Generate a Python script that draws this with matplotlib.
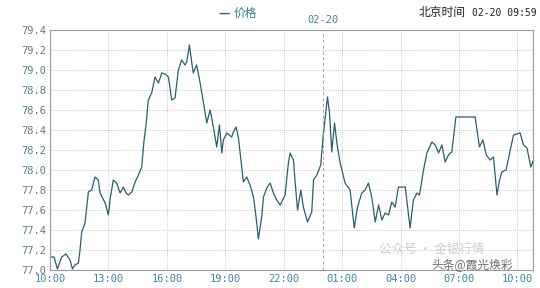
import matplotlib.pyplot as plt

plt.rcParams['font.family'] = ['Noto Sans CJK SC', 'DejaVu Sans']

# hours since 10:00 on 02-19, price
hours = [0.00, 0.21, 0.38, 0.60, 0.82, 1.03, 1.15, 1.28, 1.46, 1.54, 1.63, 1.80, 1.97, 2.14,
         2.31, 2.48, 2.57, 2.83, 3.00, 3.08, 3.25, 3.42, 3.60, 3.77, 3.90, 4.02, 4.20, 4.37,
         4.54, 4.71, 4.83, 4.93, 5.05, 5.22, 5.39, 5.57, 5.74, 5.91, 6.08, 6.25, 6.42, 6.59,
         6.76, 6.93, 7.02, 7.16, 7.28, 7.36, 7.53, 7.71, 7.88, 8.05, 8.22, 8.39, 8.56, 8.70,
         8.82, 8.90, 9.08, 9.33, 9.42, 9.55, 9.67, 9.93, 10.10, 10.27, 10.45, 10.58, 10.70,
         10.87, 10.96, 11.13, 11.30, 11.47, 11.64, 11.82, 12.07, 12.24, 12.33, 12.50, 12.59,
         12.71, 12.88, 13.01, 13.22, 13.44, 13.53, 13.70, 13.90, 14.04, 14.25, 14.35, 14.47,
         14.61, 14.73, 14.90, 15.15, 15.41, 15.62, 15.79, 16.01, 16.18, 16.35, 16.52, 16.70,
         16.87, 17.04, 17.21, 17.38, 17.55, 17.72, 17.89, 18.24, 18.32, 18.49, 18.66, 18.84,
         18.97, 19.18, 19.35, 19.61, 19.78, 19.95, 20.12, 20.29, 20.46, 20.63, 20.84, 21.83,
         22.05, 22.23, 22.40, 22.60, 22.77, 22.95, 23.08, 23.20, 23.42, 23.63, 23.80, 24.14,
         24.31, 24.49, 24.69, 24.86]
price = [77.13, 77.13, 77.01, 77.13, 77.16, 77.10, 77.01, 77.05, 77.07, 77.20, 77.38, 77.47,
         77.78, 77.80, 77.93, 77.90, 77.77, 77.67, 77.55, 77.70, 77.90, 77.87, 77.77, 77.83,
         77.77, 77.75, 77.78, 77.88, 77.95, 78.03, 78.30, 78.45, 78.70, 78.77, 78.93, 78.87,
         78.97, 78.96, 78.93, 78.70, 78.72, 79.00, 79.10, 79.05, 79.08, 79.25, 79.07, 78.97,
         79.05, 78.87, 78.67, 78.47, 78.60, 78.43, 78.23, 78.45, 78.17, 78.30, 78.37, 78.33,
         78.38, 78.43, 78.33, 77.88, 77.93, 77.85, 77.73, 77.53, 77.31, 77.53, 77.73, 77.82,
         77.87, 77.77, 77.70, 77.65, 77.75, 78.07, 78.17, 78.10, 77.87, 77.60, 77.80, 77.63,
         77.48, 77.58, 77.90, 77.95, 78.05, 78.37, 78.73, 78.57, 78.18, 78.47, 78.27, 78.07,
         77.87, 77.80, 77.42, 77.63, 77.77, 77.80, 77.87, 77.73, 77.48, 77.65, 77.50, 77.57,
         77.55, 77.68, 77.63, 77.83, 77.83, 77.70, 77.42, 77.70, 77.77, 77.75, 78.00, 78.17,
         78.28, 78.25, 78.17, 78.25, 78.08, 78.15, 78.18, 78.53, 78.53, 78.23, 78.30, 78.15,
         78.10, 78.13, 77.75, 77.90, 77.98, 78.00, 78.20, 78.35, 78.37, 78.25, 78.22, 78.03,
         78.12]

xticks = [0, 3, 6, 9, 12, 15, 18, 21, 24]
xlabels = ['10:00', '13:00', '16:00', '19:00', '22:00', '01:00', '04:00', '07:00', '10:00']
yticks = [77.0, 77.2, 77.4, 77.6, 77.8, 78.0, 78.2, 78.4, 78.6, 78.8, 79.0, 79.2, 79.4]
day_break = 14

line_c = '#2b5f6b'
tick_c = '#3a8a9c'
ylab_c = '#5b7b8b'

fig = plt.figure(figsize=(5.4, 2.88), dpi=100)
ax = fig.add_axes([50/540, 18/288, 483/540, 240/288])

ax.plot(hours, price, color=line_c, lw=0.9)

ax.set_xlim(0, 24.8)
ax.set_ylim(77.0, 79.4)
ax.set_xticks(xticks)
ax.set_xticklabels(xlabels, family='DejaVu Sans Mono', fontsize=7.5, color=tick_c)
ax.set_yticks(yticks)
ax.set_yticklabels(['%.1f' % v for v in yticks], family='DejaVu Sans Mono',
                   fontsize=7.5, color=ylab_c)
ax.tick_params(length=0, pad=3)
ax.grid(True, color='#b8b8b8', ls=(0, (1, 1.5)), lw=0.6)
ax.axvline(day_break, color='#999999', ls=(0, (4, 3)), lw=0.6)
for s in ax.spines.values():
    s.set_color('#9a9a9a')
    s.set_linewidth(0.8)

# header
fig.text(0.426, 0.955, '—', color='#2b6f80', fontsize=9, fontweight='bold',
         ha='right', va='center')
fig.text(0.432, 0.955, '价格', color='#3a7f90', fontsize=8.5, va='center')
fig.text(466/540, 0.955, '北京时间', color='#222222', fontsize=8.5, ha='right',
         va='center')
fig.text(537/540, 0.955, '02-20 09:59', color='#222222', fontsize=7,
         family='DejaVu Sans Mono', ha='right', va='center')
ax.text(day_break, 79.45, '02-20', color=tick_c, fontsize=7.5,
        family='DejaVu Sans Mono', ha='center', va='bottom')

# watermarks
fig.text(432/540, 1 - 249/288, '公众号 · 金银行情', color='#cfcfcf', fontsize=9,
         ha='center', va='center')
fig.text(472/540, 1 - 266/288, '头条@霞光焕彩', color='#4a4a4a', fontsize=8.5,
         ha='center', va='center', alpha=0.8)

fig.savefig('out.png', dpi=100)
